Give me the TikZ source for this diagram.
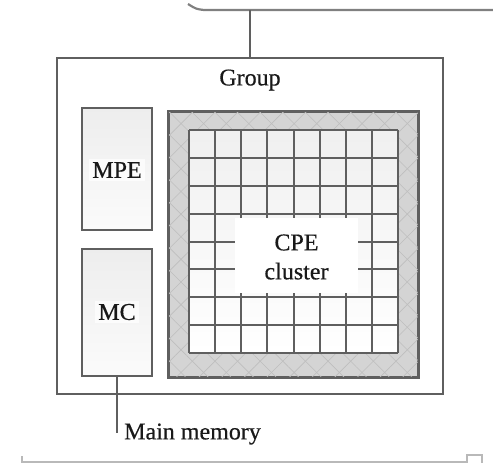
\documentclass[tikz,border=0pt]{standalone}
\usepackage{fontspec}
\setmainfont{Liberation Serif}
\newfontfamily\figfont[FakeBold=0.5]{Liberation Serif}
\usetikzlibrary{patterns.meta}
\definecolor{edge}{RGB}{95,95,95}
\definecolor{framefill}{RGB}{212,212,212}
\definecolor{hatch}{RGB}{190,190,190}
\definecolor{faint}{RGB}{185,185,185}
\tikzset{
  box/.style={draw=edge, line width=2pt, inner sep=0pt},
  unit/.style={box, top color=gray!14, bottom color=gray!3},
  lbl/.style={font=\figfont\fontsize{24}{29}\selectfont, text=black!90, align=center},
  wire/.style={draw=edge, line width=2pt},
}
\begin{document}
\begin{tikzpicture}[x=1pt,y=-1pt]
\useasboundingbox (0,0) rectangle (493,463);
% top bus
\coordinate (busL) at (188,4);
\coordinate (busT) at (250,10);
\coordinate (busR) at (493,10);
\draw[wire, line width=2.2pt, draw=gray] (busL) .. controls (196,9) .. (204,10) -- (busR);
% group box
\node[box, fill=white, minimum width=386pt, minimum height=336pt] (group) at (250,226) {};
\draw[wire] (busT) -- (group.north);
\node[lbl] (grouplbl) at (250,80) {Group};
% MPE and MC
\node[unit, minimum width=70pt, minimum height=122pt] (mpe) at (117,169) {};
\node[lbl, fill=white, fill opacity=0.7, text opacity=1, inner sep=3pt] (mpelbl) at (117,170) {MPE};
\node[unit, minimum width=70pt, minimum height=127pt] (mc) at (117,312.5) {};
\node[lbl, fill=white, fill opacity=0.7, text opacity=1, inner sep=3pt] (mclbl) at (117,312) {MC};
% CPE frame
\node[box, fill=framefill, minimum width=249pt, minimum height=265pt] (frame) at (293.5,244.5) {};
\fill[pattern={Lines[angle=45,distance=16pt,line width=0.6pt]}, pattern color=hatch]
  (frame.north west) rectangle (frame.south east);
\fill[pattern={Lines[angle=-45,distance=16pt,line width=0.6pt]}, pattern color=hatch]
  (frame.north west) rectangle (frame.south east);
\draw[edge, line width=2pt] (frame.north west) rectangle (frame.south east);
% grid
\coordinate (gNW) at (189,130);
\coordinate (gSE) at (398,353);
\shade[top color=gray!12, bottom color=white] (gNW) rectangle (gSE);
\foreach \i in {0,...,8} {
  \draw[edge, line width=2pt] ({189+\i*26.125},130) -- ({189+\i*26.125},353);
  \draw[edge, line width=2pt] (189,{130+\i*27.875}) -- (398,{130+\i*27.875});
}
\fill[white] (235,218) rectangle (358,293);
\node[lbl] (cpe) at (296.5,257) {CPE\\cluster};
% main memory
\coordinate (mm) at (117,433);
\draw[wire] (mc.south) -- (mm);
\node[lbl, anchor=west, inner sep=0pt] (mmlbl) at (124,434) {Main memory};
% bottom page edge
\coordinate (bL) at (22,462);
\coordinate (bR) at (467,462);
\draw[faint, line width=1.2pt] (22,456) -- (bL) -- (bR);
\draw[faint, line width=1.2pt] (467,466) -- (467,455) -- (482,455) -- (482,466);
\end{tikzpicture}
\end{document}
